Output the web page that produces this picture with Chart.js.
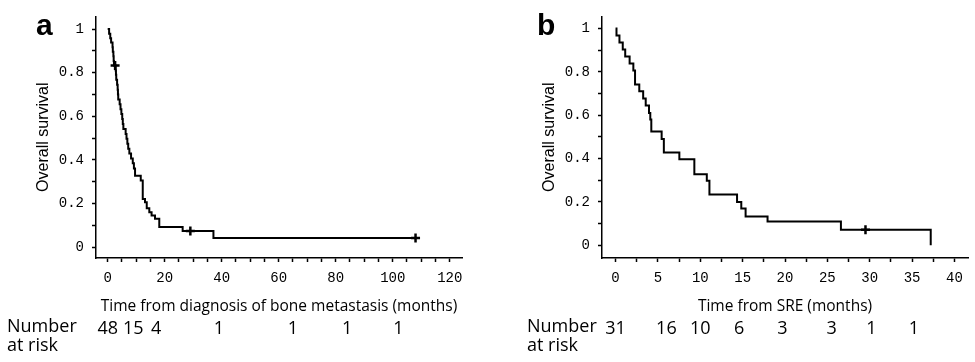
<!DOCTYPE html>
<html>
<head>
<meta charset="utf-8">
<script src="https://cdn.jsdelivr.net/npm/chart.js@4"></script>
<style>
  body { margin: 0; background: #fff; }
  #wrap { position: relative; width: 975px; height: 362px; }
  #panelA { position: absolute; left: 0; top: 0; }
  #panelB { position: absolute; left: 490px; top: 0; }
</style>
</head>
<body>
<div id="wrap">
  <canvas id="panelA" width="490" height="362"></canvas>
  <canvas id="panelB" width="485" height="362"></canvas>
</div>
<script>
// panel a : time from diagnosis of bone metastasis
const aTimes = [0, 0.5, 0.9, 1.2, 1.7, 1.8, 2.0, 2.1, 2.2, 2.8, 2.9, 3.0, 3.3, 3.5, 3.6, 3.7, 4.2, 4.5, 4.8, 5.1, 5.3, 5.5,
  6.3, 6.6, 6.9, 7.2, 7.6, 8.2, 8.8, 9.2, 9.6, 11.6, 12.3, 13.1, 13.7, 14.6, 15.4, 16.6, 18.1, 26.3, 37.1, 108];
const aSurv = [1, 0.979, 0.958, 0.938, 0.917, 0.896, 0.875, 0.854, 0.833, 0.81, 0.79, 0.767, 0.745, 0.722, 0.70, 0.677, 0.655, 0.632, 0.61, 0.587, 0.564, 0.542,
  0.519, 0.497, 0.474, 0.451, 0.429, 0.406, 0.384, 0.361, 0.327, 0.305, 0.221, 0.206, 0.178, 0.16, 0.145, 0.13, 0.092, 0.074, 0.042, 0.042];
const aCensorTimes = [2.6, 29, 108];
const aCensorSurv = [0.833, 0.074, 0.042];
const aRiskTimes = [0, 9, 17, 39, 65, 84, 102];
const aRiskCounts = ['48', '15', '4', '1', '1', '1', '1'];

// panel b : time from SRE
const bTimes = [0, 0.11, 0.46, 0.85, 1.14, 1.66, 2.1, 2.3, 2.8, 3.26, 3.56, 3.95, 4.1, 4.22, 5.44, 5.7, 7.53, 9.3, 10.77, 11.08,
  14.34, 14.84, 15.35, 17.94, 26.6, 37.2];
const bSurv = [1, 0.968, 0.935, 0.903, 0.871, 0.839, 0.806, 0.742, 0.71, 0.677, 0.645, 0.61, 0.58, 0.525, 0.49, 0.428, 0.397, 0.328, 0.298, 0.234,
  0.199, 0.17, 0.133, 0.109, 0.071, 0];
const bCensorTimes = [29.5];
const bCensorSurv = [0.071];
const bRiskTimes = [0, 6, 10, 14.6, 19.7, 25.5, 30.2, 35.2];
const bRiskCounts = ['31', '16', '10', '6', '3', '3', '1', '1'];

Chart.defaults.color = '#000';

const extraText = {
  id: 'extraText',
  afterDraw(chart, args, o) {
    const ctx = chart.ctx;
    const area = chart.chartArea;
    const xs = chart.scales.x;
    ctx.save();
    ctx.fillStyle = '#000';

    ctx.font = 'bold 30px "Liberation Sans"';
    ctx.textAlign = 'left';
    ctx.textBaseline = 'alphabetic';
    ctx.fillText(o.letter, area.left + o.letterDx, 35);

    ctx.save();
    ctx.translate(area.left - 52, (area.top + area.bottom) / 2);
    ctx.rotate(-Math.PI / 2);
    ctx.font = '16px "Liberation Sans"';
    ctx.textAlign = 'center';
    ctx.textBaseline = 'middle';
    ctx.fillText('Overall survival', 0, 0);
    ctx.restore();

    ctx.font = '15.5px "Open Sans"';
    ctx.textAlign = 'center';
    ctx.fillText(o.xTitle, (area.left + area.right) / 2, 311);

    ctx.font = '18px "Open Sans"';
    ctx.textAlign = 'left';
    ctx.fillText('Number', o.riskX, 332);
    ctx.fillText('at risk', o.riskX, 351);
    ctx.textAlign = 'center';
    o.riskTimes.forEach((t, i) => {
      ctx.fillText(o.riskCounts[i], xs.getPixelForValue(t), 334);
    });
    ctx.restore();
  }
};

function kmChart(id, times, surv, cTimes, cSurv, x, extra) {
  const line = times.map((t, i) => ({ x: t, y: surv[i] }));
  const marks = cTimes.map((t, i) => ({ x: t, y: cSurv[i] }));
  const tickFont = { family: '"Liberation Mono"', size: 14 };
  return new Chart(document.getElementById(id), {
    type: 'line',
    data: {
      datasets: [
        { data: line, stepped: true, borderColor: '#000', borderWidth: 2, pointRadius: 0, fill: false },
        { data: marks, showLine: false, pointStyle: 'cross', pointRadius: 4.5, pointBorderWidth: 2.5,
          borderColor: '#000', backgroundColor: '#000' }
      ]
    },
    options: {
      responsive: false,
      animation: false,
      events: [],
      layout: { padding: { left: 0, top: x.top, right: x.right, bottom: 0 } },
      plugins: { legend: { display: false }, tooltip: { enabled: false }, extraText: extra },
      scales: {
        x: {
          type: 'linear', min: x.min, max: x.max,
          afterFit: s => { s.height = 362 - 258; },
          border: { display: true, color: '#000', width: 1.5 },
          grid: { drawOnChartArea: false, drawTicks: true, tickLength: 4, tickColor: '#000', tickWidth: 1.5 },
          ticks: {
            stepSize: x.step, includeBounds: false, autoSkip: false, maxRotation: 0, padding: 8, font: tickFont,
            callback: v => (Math.abs(v / x.labelEvery - Math.round(v / x.labelEvery)) < 1e-6 ? String(v) : '')
          }
        },
        y: {
          type: 'linear', min: x.ymin, max: x.ymax,
          afterFit: s => { s.width = x.left; },
          border: { display: true, color: '#000', width: 1.5 },
          grid: { drawOnChartArea: false, drawTicks: true, tickLength: 4, tickColor: '#000', tickWidth: 1.5 },
          ticks: {
            stepSize: 0.1, includeBounds: false, autoSkip: false, padding: 8, font: tickFont,
            callback: v => {
              const r = Math.round(v * 10);
              if (r % 2 !== 0) return '';
              return r === 0 ? '0' : r === 10 ? '1' : (r / 10).toFixed(1);
            }
          }
        }
      }
    },
    plugins: [extraText]
  });
}

kmChart('panelA', aTimes, aSurv, aCensorTimes, aCensorSurv,
  { min: -4.1, max: 124.3, step: 5, labelEvery: 20, ymin: -0.05, ymax: 1.058, top: 15, right: 28, left: 96 },
  { letter: 'a', letterDx: -60, xTitle: 'Time from diagnosis of bone metastasis (months)', riskX: 7,
    riskTimes: aRiskTimes, riskCounts: aRiskCounts });

kmChart('panelB', bTimes, bSurv, bCensorTimes, bCensorSurv,
  { min: -1.6, max: 41.6, step: 2.5, labelEvery: 5, ymin: -0.059, ymax: 1.056, top: 12, right: 2, left: 112 },
  { letter: 'b', letterDx: -65, xTitle: 'Time from SRE (months)', riskX: 37,
    riskTimes: bRiskTimes, riskCounts: bRiskCounts });
</script>
</body>
</html>
